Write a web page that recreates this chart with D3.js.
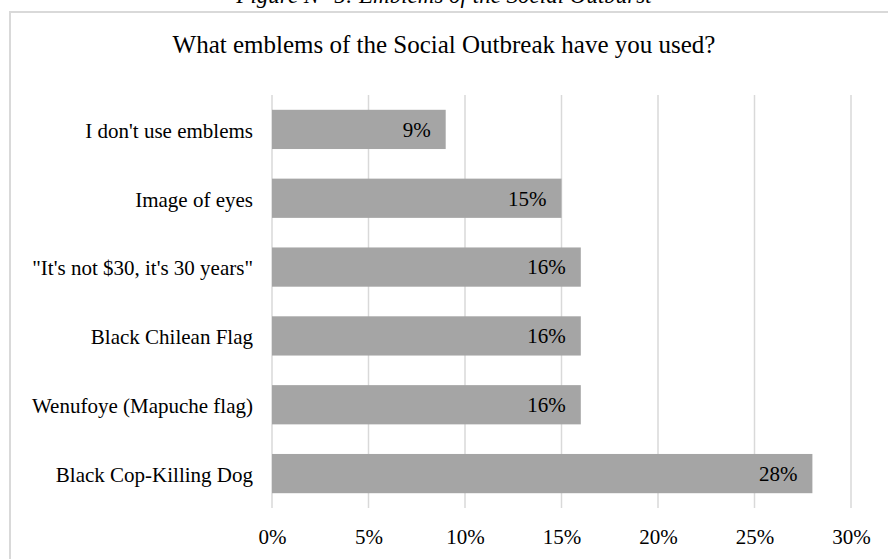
<!DOCTYPE html>
<html>
<head>
<meta charset="utf-8">
<title>Emblems of the Social Outburst</title>
<script src="https://d3js.org/d3.v7.min.js"></script>
<style>
    body { margin: 0; background: #ffffff; }
    svg { display: block; font-family: "Liberation Serif", "Times New Roman", serif; }
    .grid line { stroke: #d9d9d9; stroke-width: 1.5px; }
    .bar { fill: #a5a5a5; }
</style>
</head>
<body>
<div id="chart"></div>
<script>
    var categories = [
        "I don't use emblems",
        "Image of eyes",
        "\"It's not $30, it's 30 years\"",
        "Black Chilean Flag",
        "Wenufoye (Mapuche flag)",
        "Black Cop-Killing Dog"
    ];
    var values = [0.09, 0.15, 0.16, 0.16, 0.16, 0.28];
    var tickValues = [0, 0.05, 0.10, 0.15, 0.20, 0.25, 0.30];

    var caption = "Figure N° 5: Emblems of the Social Outburst";
    var title = "What emblems of the Social Outbreak have you used?";

    var W = 888, H = 559;
    var margin = {top: 95, right: 37, bottom: 51, left: 272};
    var width = W - margin.left - margin.right;
    var height = H - margin.top - margin.bottom;

    var svg = d3.select("#chart").append("svg")
        .attr("width", W)
        .attr("height", H);

    // caption, cut by the top edge like in the source page
    svg.append("text")
        .attr("x", W / 2)
        .attr("y", 3)
        .attr("text-anchor", "middle")
        .style("font-style", "italic")
        .style("font-size", "23px")
        .text(caption);

    // chart area border (only top and left are visible)
    svg.append("path")
        .attr("d", "M10,560 L10,12 L890,12")
        .attr("fill", "none")
        .attr("stroke", "#d9d9d9")
        .attr("stroke-width", 2);

    svg.append("text")
        .attr("x", W / 2)
        .attr("y", 53)
        .attr("text-anchor", "middle")
        .style("font-size", "25px")
        .attr("fill", "#000")
        .text(title);

    var g = svg.append("g")
        .attr("transform", "translate(" + margin.left + "," + margin.top + ")");

    var x = d3.scaleLinear().domain([0, 0.30]).range([0, width]);
    var y = d3.scaleBand().domain(categories).range([0, height]).paddingInner(0.43).paddingOuter(0.215);

    g.append("g")
        .attr("class", "grid")
        .selectAll("line")
        .data(tickValues)
        .enter().append("line")
        .attr("x1", function(d) { return x(d); })
        .attr("x2", function(d) { return x(d); })
        .attr("y1", 0)
        .attr("y2", height);

    var xAxis = g.append("g")
        .attr("transform", "translate(0," + height + ")")
        .call(d3.axisBottom(x).tickValues(tickValues).tickSize(0).tickPadding(21)
            .tickFormat(d3.format(".0%")));
    xAxis.select(".domain").remove();
    xAxis.selectAll("text")
        .style("font-size", "21px")
        .style("font-family", "'Liberation Serif', serif")
        .attr("fill", "#000");

    var yAxis = g.append("g")
        .call(d3.axisLeft(y).tickSize(0).tickPadding(19));
    yAxis.select(".domain").remove();
    yAxis.selectAll("text")
        .style("font-size", "21px")
        .style("font-family", "'Liberation Serif', serif")
        .attr("dy", "0.4em")
        .attr("fill", "#000");

    g.selectAll(".bar")
        .data(values)
        .enter().append("rect")
        .attr("class", "bar")
        .attr("x", x(0))
        .attr("y", function(d, i) { return y(categories[i]); })
        .attr("width", function(d) { return x(d) - x(0); })
        .attr("height", y.bandwidth());

    g.selectAll(".label")
        .data(values)
        .enter().append("text")
        .attr("class", "label")
        .attr("x", function(d) { return x(d) - 15; })
        .attr("y", function(d, i) { return y(categories[i]) + y.bandwidth() / 2; })
        .attr("dy", "0.35em")
        .attr("text-anchor", "end")
        .style("font-size", "21px")
        .attr("fill", "#000")
        .text(function(d) { return d3.format(".0%")(d); });
</script>
</body>
</html>
